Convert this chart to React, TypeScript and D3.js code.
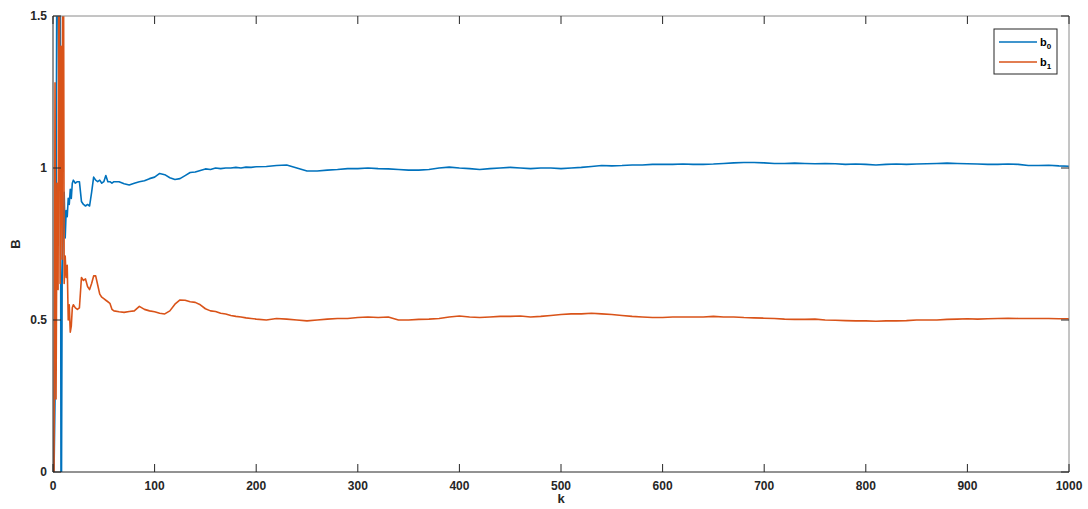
import React from "react";
import * as d3 from "d3";

const kSteps = [
  1, 2, 3, 4, 5, 6, 7, 8, 9, 10, 11, 12, 13, 14, 15, 16, 17, 18, 19, 20,
  22, 24, 26, 28, 30, 32, 34, 36, 38, 40, 42, 44, 46, 48, 50, 52, 54, 56, 58, 60,
  65, 70, 75, 80, 85, 90, 95, 100, 105, 110, 115, 120, 125, 130, 135, 140, 145, 150,
  155, 160, 165, 170, 175, 180, 185, 190, 195, 200,
  210, 220, 230, 240, 250, 260, 270, 280, 290, 300, 310, 320, 330, 340, 350, 360, 370, 380, 390, 400,
  410, 420, 430, 440, 450, 460, 470, 480, 490, 500, 510, 520, 530, 540, 550, 560, 570, 580, 590, 600,
  610, 620, 630, 640, 650, 660, 670, 680, 690, 700, 710, 720, 730, 740, 750, 760, 770, 780, 790, 800,
  810, 820, 830, 840, 850, 860, 870, 880, 890, 900, 910, 920, 930, 940, 950, 960, 970, 980, 990, 1000,
];

const b0Values = [
  0, 0.24, 0.79, 1.95, 1.6, 1.13, 2.1, -0.4, 0.62, 0.78, 0.92, 0.77, 0.86, 0.84, 0.9, 0.88, 0.93, 0.9, 0.95, 0.96,
  0.95, 0.955, 0.955, 0.89, 0.88, 0.875, 0.88, 0.875, 0.92, 0.97, 0.96, 0.955, 0.96, 0.95, 0.955, 0.975, 0.955, 0.955, 0.95, 0.955,
  0.955, 0.948, 0.944, 0.95, 0.955, 0.958, 0.965, 0.97, 0.982, 0.978, 0.968, 0.962, 0.965, 0.975, 0.985, 0.987, 0.992, 0.997,
  0.995, 1.0, 0.998, 1.0, 1.0, 1.002, 1.0, 1.003, 1.002, 1.004,
  1.005, 1.008, 1.01, 1.0, 0.99, 0.99, 0.993, 0.995, 0.998, 0.998, 1.0, 0.998, 0.997, 0.995, 0.993, 0.993, 0.995, 1.0, 1.003, 1.0,
  0.998, 0.995, 0.998, 1.0, 1.002, 1.0, 0.998, 1.0, 1.0, 0.998, 1.0, 1.002, 1.005, 1.008, 1.007, 1.008, 1.01, 1.01, 1.012, 1.012,
  1.012, 1.013, 1.012, 1.012, 1.013, 1.015, 1.017, 1.018, 1.018, 1.017, 1.015, 1.015, 1.016, 1.015, 1.014, 1.015, 1.014, 1.012, 1.013, 1.012,
  1.01, 1.012, 1.013, 1.012, 1.013, 1.014, 1.015, 1.016, 1.015, 1.014, 1.013, 1.012, 1.012, 1.013, 1.012, 1.008, 1.008, 1.009, 1.007, 1.006,
];

const b1Values = [
  0, 1.28, 0.24, 0.95, 0.6, 2.2, 0.62, 1.4, 0.7, 2.3, 0.62, 0.71, 0.64, 0.68, 0.5, 0.55, 0.46, 0.48, 0.54, 0.55,
  0.54, 0.535, 0.54, 0.64, 0.63, 0.635, 0.61, 0.6, 0.62, 0.645, 0.645, 0.615, 0.585, 0.575, 0.57, 0.565, 0.56, 0.555, 0.535, 0.53,
  0.527, 0.525, 0.528, 0.53, 0.545, 0.535, 0.53, 0.527, 0.522, 0.52, 0.53, 0.552, 0.566, 0.565, 0.56, 0.558, 0.55, 0.537,
  0.53, 0.528, 0.522, 0.52, 0.515, 0.512, 0.51, 0.507, 0.505, 0.503,
  0.5, 0.505, 0.503, 0.5, 0.497, 0.5, 0.503, 0.505, 0.505, 0.508, 0.51, 0.508, 0.51, 0.5, 0.5, 0.502, 0.503, 0.505, 0.51, 0.513,
  0.51, 0.508, 0.51, 0.512, 0.512, 0.513, 0.51, 0.512, 0.515, 0.518, 0.52, 0.52, 0.522, 0.52, 0.518, 0.515, 0.512, 0.51, 0.508, 0.508,
  0.51, 0.51, 0.51, 0.51, 0.512, 0.51, 0.51, 0.508, 0.507, 0.506, 0.505, 0.503, 0.502, 0.502, 0.503, 0.5, 0.499, 0.498, 0.497, 0.497,
  0.496, 0.497, 0.497, 0.498, 0.5, 0.5, 0.5, 0.502, 0.503, 0.504, 0.503, 0.504, 0.505, 0.506, 0.505, 0.505, 0.505, 0.505, 0.504, 0.504,
];

const xTicks = [0, 100, 200, 300, 400, 500, 600, 700, 800, 900, 1000];
const yTicks = [0, 0.5, 1, 1.5];
const seriesNames = ["b0", "b1"];
const seriesColors = ["#0072BD", "#D95319"];

const W = 1088;
const H = 509;
const left = 53;
const right = 1069;
const top = 16;
const bottom = 472;

export default function App() {
  const x = d3.scaleLinear().domain([0, 1000]).range([left, right]);
  const y = d3.scaleLinear().domain([0, 1.5]).range([bottom, top]);
  const line = d3
    .line<number>()
    .x((_, i) => x(kSteps[i]))
    .y((d) => y(d));
  const series = [b0Values, b1Values];
  const font = "'Liberation Sans', Arial, Helvetica, sans-serif";
  const axisColor = "#262626";
  const tickLen = 8;

  return (
    <svg
      width={W}
      height={H}
      style={{ position: "absolute", left: 0, top: 0, background: "#fff" }}
      fontFamily={font}
    >
      <defs>
        <clipPath id="plotClip">
          <rect x={left} y={top} width={right - left} height={bottom - top} />
        </clipPath>
      </defs>
      <rect x={0} y={0} width={W} height={H} fill="#fff" />
      <g clipPath="url(#plotClip)">
        {series.map((vals, i) => (
          <path
            key={i}
            d={line(vals) || ""}
            fill="none"
            stroke={seriesColors[i]}
            strokeWidth={1.6}
            strokeLinejoin="round"
          />
        ))}
      </g>
      {/* box */}
      <line x1={left} x2={right} y1={top} y2={top} stroke="#8a8a8a" strokeWidth={1} />
      <line x1={right} x2={right} y1={top} y2={bottom} stroke="#8a8a8a" strokeWidth={1} />
      <line x1={left} x2={right} y1={bottom} y2={bottom} stroke={axisColor} strokeWidth={1} />
      <line x1={left} x2={left} y1={top} y2={bottom} stroke={axisColor} strokeWidth={1} />
      {/* x ticks */}
      {xTicks.map((t) => (
        <g key={"x" + t}>
          <line x1={x(t)} x2={x(t)} y1={bottom} y2={bottom - tickLen} stroke={axisColor} />
          <line x1={x(t)} x2={x(t)} y1={top} y2={top + tickLen} stroke={axisColor} />
          <text
            x={x(t)}
            y={bottom + 18}
            textAnchor="middle"
            fontSize={12}
            fontWeight="bold"
            fill={axisColor}
          >
            {t}
          </text>
        </g>
      ))}
      {yTicks.map((t) => (
        <g key={"y" + t}>
          <line x1={left} x2={left + tickLen} y1={y(t)} y2={y(t)} stroke={axisColor} />
          <line x1={right} x2={right - tickLen} y1={y(t)} y2={y(t)} stroke={axisColor} />
          <text
            x={left - 6}
            y={y(t) + 4}
            textAnchor="end"
            fontSize={12}
            fontWeight="bold"
            fill={axisColor}
          >
            {t}
          </text>
        </g>
      ))}
      <text x={(left + right) / 2} y={503} textAnchor="middle" fontSize={13} fontWeight="bold" fill={axisColor}>
        k
      </text>
      <text
        transform={`translate(20, ${(top + bottom) / 2}) rotate(-90)`}
        textAnchor="middle"
        fontSize={13}
        fontWeight="bold"
        fill={axisColor}
      >
        B
      </text>
      {/* legend */}
      <rect x={994} y={29} width={63} height={45} fill="#fff" stroke={axisColor} strokeWidth={1} />
      {seriesNames.map((n, i) => (
        <g key={n}>
          <line
            x1={999}
            x2={1037}
            y1={42 + i * 20}
            y2={42 + i * 20}
            stroke={seriesColors[i]}
            strokeWidth={1.6}
          />
          <text x={1040} y={46 + i * 20} fontSize={11} fontWeight="bold" fill="#000">
            {n[0]}
            <tspan fontSize={8} dy={3}>
              {n.slice(1)}
            </tspan>
          </text>
        </g>
      ))}
    </svg>
  );
}
